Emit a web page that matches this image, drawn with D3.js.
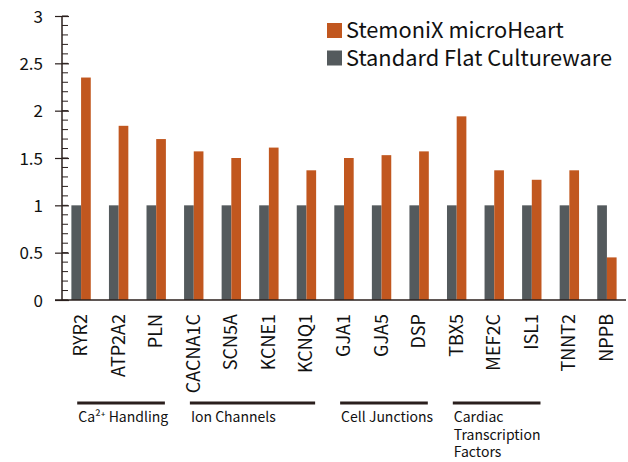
<!DOCTYPE html>
<html>
<head>
<meta charset="utf-8">
<script src="https://cdn.jsdelivr.net/npm/d3@7"></script>
<style>
  html, body { margin: 0; padding: 0; background: #fff; }
  svg { display: block; font-family: "Noto Sans CJK JP", "Noto Sans", sans-serif; }
</style>
</head>
<body>
<svg id="chart" width="628" height="462"></svg>
<script>
const genes = ["RYR2","ATP2A2","PLN","CACNA1C","SCN5A","KCNE1","KCNQ1","GJA1","GJA5","DSP","TBX5","MEF2C","ISL1","TNNT2","NPPB"];
const microHeart = [2.35,1.84,1.70,1.57,1.50,1.61,1.37,1.50,1.53,1.57,1.94,1.37,1.27,1.37,0.45];
const flatCulture = [1,1,1,1,1,1,1,1,1,1,1,1,1,1,1];
const seriesNames = ["StemoniX microHeart","Standard Flat Cultureware"];
const yTicks = [0,0.5,1,1.5,2,2.5,3];
const groups = [
  {label:["Ca²⁺ Handling"], from:"RYR2", to:"PLN"},
  {label:["Ion Channels"], from:"CACNA1C", to:"KCNQ1"},
  {label:["Cell Junctions"], from:"GJA1", to:"DSP"},
  {label:["Cardiac","Transcription","Factors"], from:"TBX5", to:"ISL1"}
];

const orange = "#C1571F", gray = "#545A5D", axisCol = "#2a1f1d";
const svg = d3.select("#chart");

const x = d3.scaleBand().domain(genes).range([62, 626]).paddingInner(0.484).paddingOuter(0.25);
const y = d3.scaleLinear().domain([0,3]).range([300, 16]);
const bw = x.bandwidth();

// bars
const g = svg.append("g");
g.selectAll("rect.flat").data(genes).join("rect")
  .attr("x", d => x(d)).attr("width", bw/2)
  .attr("y", (d,i) => y(flatCulture[i])).attr("height", (d,i) => y(0) - y(flatCulture[i]))
  .attr("fill", gray);
g.selectAll("rect.mh").data(genes).join("rect")
  .attr("x", d => x(d) + bw/2).attr("width", bw/2)
  .attr("y", (d,i) => y(microHeart[i])).attr("height", (d,i) => y(0) - y(microHeart[i]))
  .attr("fill", orange);

// y axis minor ticks
const minor = d3.range(0, 3.0001, 0.1).map(v => +v.toFixed(1));
svg.append("g").selectAll("line").data(minor).join("line")
  .attr("x1", 62).attr("x2", 68)
  .attr("y1", d => y(d)).attr("y2", d => y(d))
  .attr("stroke", axisCol).attr("stroke-width", 1);

// y axis major
const yAxis = svg.append("g").attr("transform", "translate(62,0)")
  .call(d3.axisLeft(y).tickValues(yTicks).tickFormat(d3.format("")).tickSize(7).tickPadding(12));
yAxis.select(".domain").remove();
yAxis.selectAll(".tick line").attr("x2", 7).attr("x1", -7).attr("stroke", axisCol).attr("stroke-width", 1.2);
yAxis.selectAll(".tick text").attr("font-size", 17).attr("fill", "#111")
  .attr("font-family", "'Noto Sans CJK JP', sans-serif").attr("x", -19).attr("dy", "0.36em");

svg.append("line").attr("x1", 62).attr("x2", 62).attr("y1", 16).attr("y2", 300)
  .attr("stroke", axisCol).attr("stroke-width", 1.5);
svg.append("line").attr("x1", 55).attr("x2", 626).attr("y1", y(0)).attr("y2", y(0))
  .attr("stroke", axisCol).attr("stroke-width", 1.6);

// x labels
svg.append("g").selectAll("text").data(genes).join("text")
  .attr("transform", d => `translate(${x(d) + bw/2 + 6},314) rotate(-90)`)
  .attr("text-anchor", "end")
  .attr("font-size", 18).attr("fill", "#111")
  .text(d => d);

// group labels
groups.forEach(gr => {
  const x1 = x(gr.from) + bw*0.3, x2 = x(gr.to) + bw - 1;
  svg.append("line").attr("x1", x1).attr("x2", x2).attr("y1", 403).attr("y2", 403)
    .attr("stroke", axisCol).attr("stroke-width", 3);
  gr.label.forEach((l, i) => svg.append("text")
    .attr("x", x1 + 1).attr("y", 422 + i * 17.5)
    .attr("font-size", 14).attr("fill", "#111").text(l));
});

// legend
const leg = svg.append("g");
[[orange, seriesNames[0], 23], [gray, seriesNames[1], 50.5]].forEach(([c, name, yy]) => {
  leg.append("rect").attr("x", 327).attr("y", yy).attr("width", 15).attr("height", 15).attr("fill", c);
  leg.append("text").attr("x", 346).attr("y", yy + 15).attr("font-size", 21.8).attr("fill", "#111").text(name);
});
</script>
</body>
</html>
